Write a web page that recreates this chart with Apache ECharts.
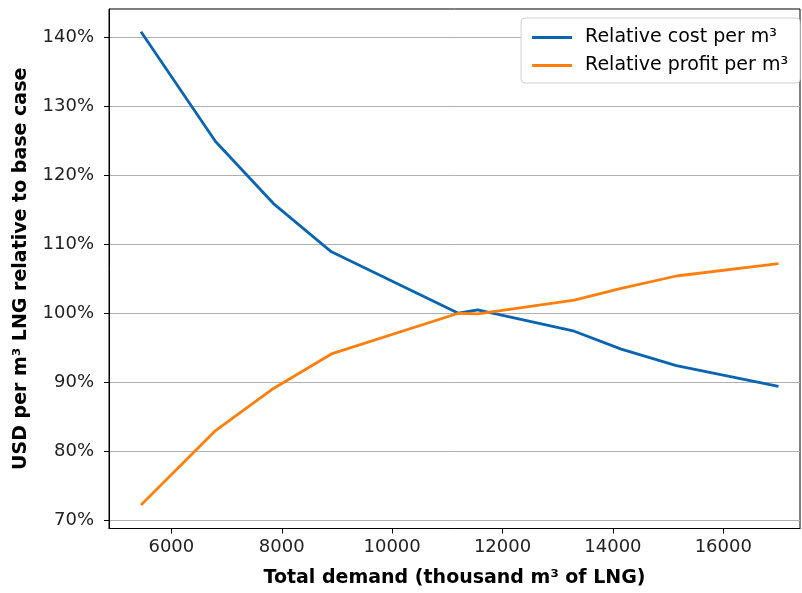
<!DOCTYPE html>
<html>
<head>
<meta charset="utf-8">
<script src="https://cdn.jsdelivr.net/npm/echarts@6/dist/echarts.min.js"></script>
<style>html,body{margin:0;padding:0;background:#fff}#c{width:802px;height:593px}</style>
</head>
<body>
<div id="c"></div>
<script>
const demand = [5450, 6800, 7850, 8900, 11200, 11550, 13300, 14150, 15150, 17000];
const relCost = [140.8, 124.9, 115.9, 108.9, 100.0, 100.5, 97.4, 94.8, 92.4, 89.4];
const relProfit = [72.2, 83.0, 89.1, 94.1, 100.0, 99.9, 101.9, 103.6, 105.4, 107.2];
const xTicks = [6000, 8000, 10000, 12000, 14000, 16000];
const yTicks = [70, 80, 90, 100, 110, 120, 130, 140];
const seriesNames = ['Relative cost per m³', 'Relative profit per m³'];

const font = 'DejaVu Sans';
const chart = echarts.init(document.getElementById('c'), null, {renderer: 'canvas'});
chart.setOption({
  animation: false,
  backgroundColor: '#fff',
  grid: {left: 109, right: 2, top: 9, bottom: 63.5, show: true, borderColor: '#000', borderWidth: 1, backgroundColor: 'transparent'},
  legend: {
    orient: 'vertical', right: 2, top: 18,
    padding: [9, 12, 7, 11],
    itemWidth: 40, itemHeight: 3, itemGap: 7,
    icon: 'rect',
    borderColor: '#d0d0d0', borderWidth: 1, borderRadius: 4, backgroundColor: '#fff',
    textStyle: {fontFamily: font, fontSize: 19, color: '#000', lineHeight: 21, padding: [0, 0, 0, 8]},
    data: seriesNames
  },
  xAxis: {
    type: 'value', min: 4870, max: 17390,
    name: 'Total demand (thousand m³ of LNG)', nameLocation: 'middle', nameGap: 40.5,
    nameTextStyle: {fontFamily: font, fontSize: 19, fontWeight: 'bold', color: '#000'},
    axisLine: {show: true, lineStyle: {color: '#000'}},
    axisTick: {show: true, length: 5, lineStyle: {color: '#000'}, customValues: xTicks},
    axisLabel: {fontFamily: font, fontSize: 18, color: '#222', margin: 10, customValues: xTicks, formatter: v => String(v)},
    splitLine: {show: false}
  },
  yAxis: {
    type: 'value', min: 68.8, max: 144.1,
    name: 'USD per m³ LNG relative to base case', nameLocation: 'middle', nameGap: 78.5,
    nameTextStyle: {fontFamily: font, fontSize: 19, fontWeight: 'bold', color: '#000'},
    axisLine: {show: true, lineStyle: {color: '#000'}},
    axisTick: {show: true, length: 5, lineStyle: {color: '#000'}, customValues: yTicks},
    axisLabel: {fontFamily: font, fontSize: 18, color: '#222', margin: 15, customValues: yTicks, formatter: v => v + '%'},
    splitLine: {show: true, lineStyle: {color: '#b0b0b0', width: 1}}
  },
  series: [
    {name: seriesNames[0], type: 'line', data: demand.map((d, i) => [d, relCost[i]]), showSymbol: false, lineStyle: {color: '#0a64b0', width: 2.8}, itemStyle: {color: '#0a64b0'}},
    {name: seriesNames[1], type: 'line', data: demand.map((d, i) => [d, relProfit[i]]), showSymbol: false, lineStyle: {color: '#ff7f0e', width: 2.8}, itemStyle: {color: '#ff7f0e'}}
  ]
});
</script>
</body>
</html>
